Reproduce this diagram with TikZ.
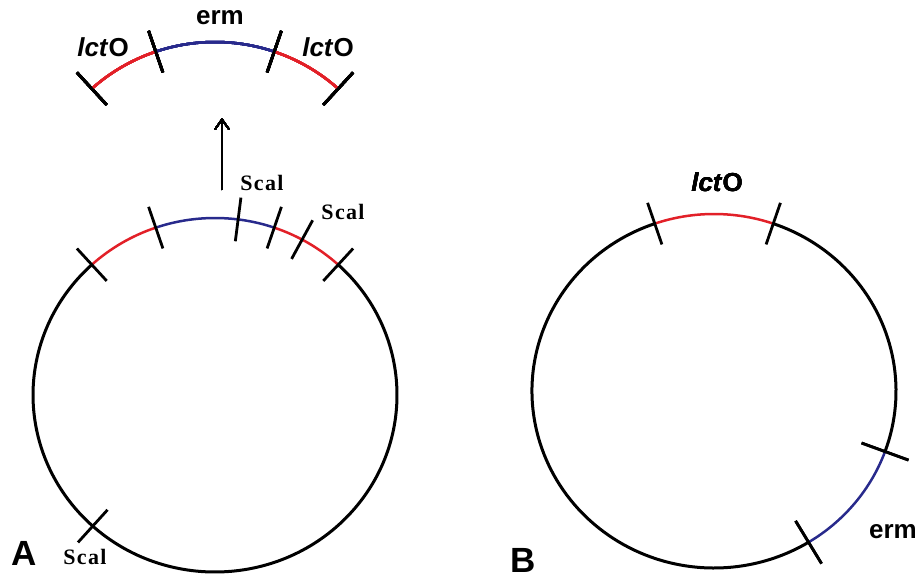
\documentclass[tikz,border=0pt]{standalone}
\usepackage{fontspec}
\setmainfont{Liberation Sans}
\newfontfamily\scalfont{Liberation Serif}[LetterSpace=6]
\usetikzlibrary{arrows.meta,calc}
\definecolor{genered}{RGB}{226,32,40}
\definecolor{geneblue}{RGB}{40,42,140}
\newcommand{\sitecut}[3]{\draw[sitemark] ($(#1)+(#2:182 and 177)+(#2:#3)$) -- ($(#1)+(#2:182 and 177)-(#2:#3)$);}
\newcommand{\ringarc}[4]{\draw[#1] ($(#2)+(#3:182 and 177)$) arc[start angle=#3,end angle=#4,x radius=182,y radius=177];}
\begin{document}
\begin{tikzpicture}
[x=0.5pt,y=0.5pt,
 ring/.style={line width=1.5pt},
 seg/.style={line width=1.25pt},
 sitemark/.style={line width=1.4pt},
 gene/.style={font=\fontsize{13}{15}\selectfont\bfseries},
 scal/.style={font=\fontsize{11}{13}\selectfont\scalfont\bfseries},
 panel/.style={font=\fontsize{17.5}{20}\selectfont\bfseries},
 >={Straight Barb[length=5pt,width=7pt]}]
\useasboundingbox (0,0) rectangle (924,580);
\coordinate (ca) at (215,185);
\coordinate (cb) at (714,189);
\coordinate (ct) at (215,361);
\coordinate (up0) at (222,390);
\coordinate (up1) at (222,462);
% A
\ringarc{ring}{ca}{47.4}{-227.4}
\ringarc{seg,genered}{ca}{132.6}{109}
\ringarc{seg,geneblue}{ca}{109}{71}
\ringarc{seg,genered}{ca}{71}{47.4}
\foreach \a in {132.6,109,82.7,71,61.4,47.4,227.8} \sitecut{ca}{\a}{22}
\ringarc{seg,genered}{ct}{132.6}{109}
\ringarc{seg,geneblue}{ct}{109}{71}
\ringarc{seg,genered}{ct}{71}{47.4}
\foreach \a in {132.6,109,71,47.4} \sitecut{ct}{\a}{22}
\draw[->,line width=0.8pt] (up0) -- (up1);
\node[gene] (lctl) at (103,533) {\textit{lct}O};
\node[gene] (ermt) at (220,562) {erm};
\node[gene] (lctr) at (328,533) {\textit{lct}O};
\node[scal] (scal1) at (262,397) {Scal};
\node[scal] (scal2) at (343,368) {Scal};
\node[scal] (scal3) at (85,23) {Scal};
\node[panel] (pa) at (24,27) {A};
% B
\ringarc{ring}{cb}{109}{301.3}
\ringarc{ring}{cb}{340}{431}
\ringarc{seg,genered}{cb}{109}{71}
\ringarc{seg,geneblue}{cb}{301.3}{340}
\foreach \a in {109,71} \sitecut{cb}{\a}{22}
\foreach \a in {-20,-58.7} \sitecut{cb}{\a}{25}
\node[gene] (lctb) at (717,398) {\textit{lct}O};
\node[gene] (ermb) at (893,48) {erm};
\node[panel] (pb) at (523,20) {B};
\end{tikzpicture}
\end{document}
